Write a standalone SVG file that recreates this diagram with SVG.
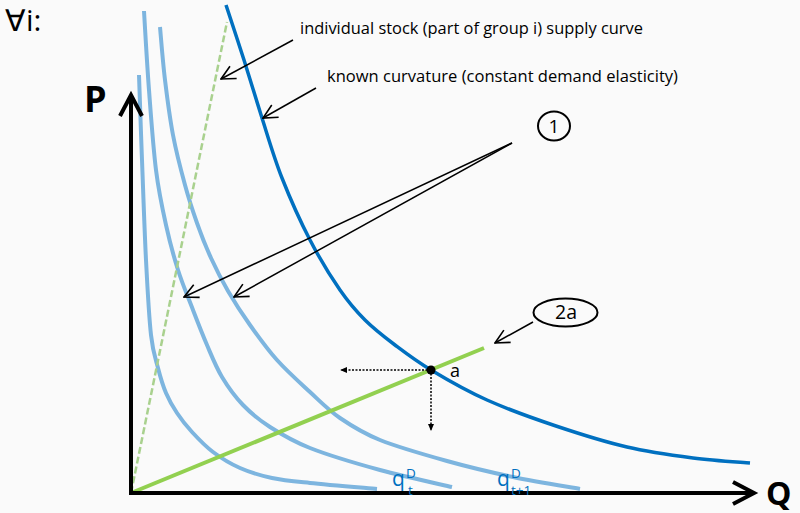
<svg xmlns="http://www.w3.org/2000/svg" width="800" height="513" viewBox="0 0 800 513">
<defs>
<style>
.lb{fill:none;stroke:#7DB5DF;stroke-width:4;stroke-linecap:butt}
.db{fill:none;stroke:#0070C0;stroke-width:3.5}
.ax{fill:none;stroke:#000;stroke-width:4}
.ptr{fill:none;stroke:#000;stroke-width:1.5;marker-end:url(#open)}
.dot{fill:none;stroke:#000;stroke-width:1.5;stroke-dasharray:2 1.5;marker-end:url(#small)}
.t{font-family:"Open Sans","Noto Sans",sans-serif;fill:#000}
.q{font-family:"Open Sans","Noto Sans",sans-serif;fill:#0070C0}
</style>
<marker id="open" viewBox="0 0 16 16" refX="15" refY="8" markerWidth="16" markerHeight="16" orient="auto" markerUnits="userSpaceOnUse">
<path d="M1,1 L15,8 L1,15" fill="none" stroke="#000" stroke-width="1.6"/>
</marker>
<marker id="small" viewBox="0 0 8 8" refX="7" refY="4" markerWidth="7" markerHeight="7" orient="auto" markerUnits="userSpaceOnUse">
<path d="M0,0.5 L8,4 L0,7.5 Z" fill="#000"/>
</marker>
</defs>
<rect width="800" height="513" fill="#FAFAFA"/>

<g id="curves">
<path id="curve-inner" class="lb" d="M139,75 C139.5,89.2 140.8,129.2 142,160 C143.2,190.8 144.5,230.8 146,260 C147.5,289.2 149,317 151,335 C153,353 155.5,358.3 158,368 C160.5,377.7 162.8,385.5 166,393 C169.2,400.5 172.7,406.5 177,413 C181.3,419.5 186,425.5 192,432 C198,438.5 205,446 213,452 C221,458 230.2,463.7 240,468 C249.8,472.3 260.3,475.5 272,478 C283.7,480.5 292.5,481.2 310,483 C327.5,484.8 365.8,488 377,489"/>
<path id="curve-middle" class="lb" d="M144,11 C144.8,24.2 147,63.5 149,90 C151,116.5 153.2,147.5 156,170 C158.8,192.5 162.3,208.3 166,225 C169.7,241.7 173.5,255.8 178,270 C182.5,284.2 188.2,297.5 193,310 C197.8,322.5 202.2,333.8 207,345 C211.8,356.2 216,367 222,377 C228,387 235,396.7 243,405 C251,413.3 258.8,419.8 270,427 C281.2,434.2 291.7,440.8 310,448 C328.3,455.2 356.3,463.5 380,470 C403.7,476.5 440,484.2 452,487"/>
<path id="curve-outer" class="lb" d="M160,27 C160.8,35.8 162.8,62 165,80 C167.2,98 169.7,117.5 173,135 C176.3,152.5 181,170.3 185,185 C189,199.7 192.7,210.8 197,223 C201.3,235.2 205.8,246.7 211,258 C216.2,269.3 221.5,279.8 228,291 C234.5,302.2 241.8,313.5 250,325 C258.2,336.5 267,348.8 277,360 C287,371.2 299.5,382.3 310,392 C320.5,401.7 328.3,410 340,418 C351.7,426 362.2,432.8 380,440 C397.8,447.2 424.8,454.8 447,461 C469.2,467.2 490.8,472.3 513,477 C535.2,481.7 568.8,487 580,489"/>
<path id="curve-known" class="db" d="M226,5 C229,14.2 238,41.2 244,60 C250,78.8 255.7,98.3 262,118 C268.3,137.7 274,157.7 282,178 C290,198.3 300.3,221.3 310,240 C319.7,258.7 330.8,276.7 340,290 C349.2,303.3 355.8,310.8 365,320 C374.2,329.2 384,336.7 395,345 C406,353.3 415.7,360.8 431,370 C446.3,379.2 466.2,390.7 487,400 C507.8,409.3 532.7,418.2 556,426 C579.3,433.8 604.2,441.7 627,447 C649.8,452.3 672.5,455.3 693,458 C713.5,460.7 740.5,462.2 750,463"/>
<line id="supply" x1="131" y1="493" x2="227" y2="22" stroke="#A9D18E" stroke-width="2.5" stroke-dasharray="7 3"/>
<line id="line-2a" x1="131" y1="493" x2="484" y2="348" stroke="#92D050" stroke-width="4"/>
</g>

<g id="axes">
<path class="ax" d="M131,495 L131,95"/>
<path class="ax" d="M120,116 L131,95 L142,116"/>
<path class="ax" d="M129,493 L753,493"/>
<path class="ax" d="M733,482 L754,493 L733,504"/>
<text class="t" x="84" y="112" font-size="36" font-weight="bold">P</text>
<text class="t" x="766" y="505" font-size="32" font-weight="bold">Q</text>
</g>

<g id="title">
<text class="t" x="5" y="31" font-size="30" fill="#1a1a1a">∀i:</text>
</g>

<g id="connectors">
<line class="ptr" x1="293" y1="40" x2="221" y2="79"/>
<line class="ptr" x1="316" y1="88" x2="263" y2="118"/>
<line class="ptr" x1="512" y1="143" x2="184" y2="297"/>
<line class="ptr" x1="512" y1="143" x2="234" y2="297"/>
<line class="ptr" x1="533" y1="322" x2="495" y2="343"/>
<line class="dot" x1="431" y1="370" x2="341" y2="370"/>
<line class="dot" x1="431" y1="370" x2="431" y2="430"/>
</g>

<g id="label-supply">
<text class="t" x="300" y="34" font-size="15.5" textLength="343" lengthAdjust="spacingAndGlyphs">individual stock (part of group i) supply curve</text>
</g>
<g id="label-known">
<text class="t" x="327" y="82" font-size="15.5" textLength="351" lengthAdjust="spacingAndGlyphs">known curvature (constant demand elasticity)</text>
</g>
<g id="node-1">
<ellipse cx="554" cy="126" rx="16" ry="14.5" fill="none" stroke="#000" stroke-width="2"/>
<text class="t" x="554" y="133" font-size="19" text-anchor="middle">1</text>
</g>
<g id="node-2a">
<ellipse cx="565.5" cy="312.5" rx="32" ry="14" fill="none" stroke="#000" stroke-width="2"/>
<text class="t" x="566" y="319" font-size="19.5" text-anchor="middle">2a</text>
</g>
<g id="point-a">
<circle cx="431" cy="370" r="4.5" fill="#000"/>
<text class="t" x="450" y="377" font-size="18">a</text>
</g>
<g id="label-qt">
<text class="q" x="392" y="486" font-size="21">q</text>
<text class="q" x="406" y="478" font-size="13.5">D</text>
<text class="q" x="408" y="495" font-size="13.5">t</text>
</g>
<g id="label-qt1">
<text class="q" x="497" y="486" font-size="21">q</text>
<text class="q" x="511" y="478" font-size="13.5">D</text>
<text class="q" x="511" y="495" font-size="13.5">t+1</text>
</g>
</svg>
